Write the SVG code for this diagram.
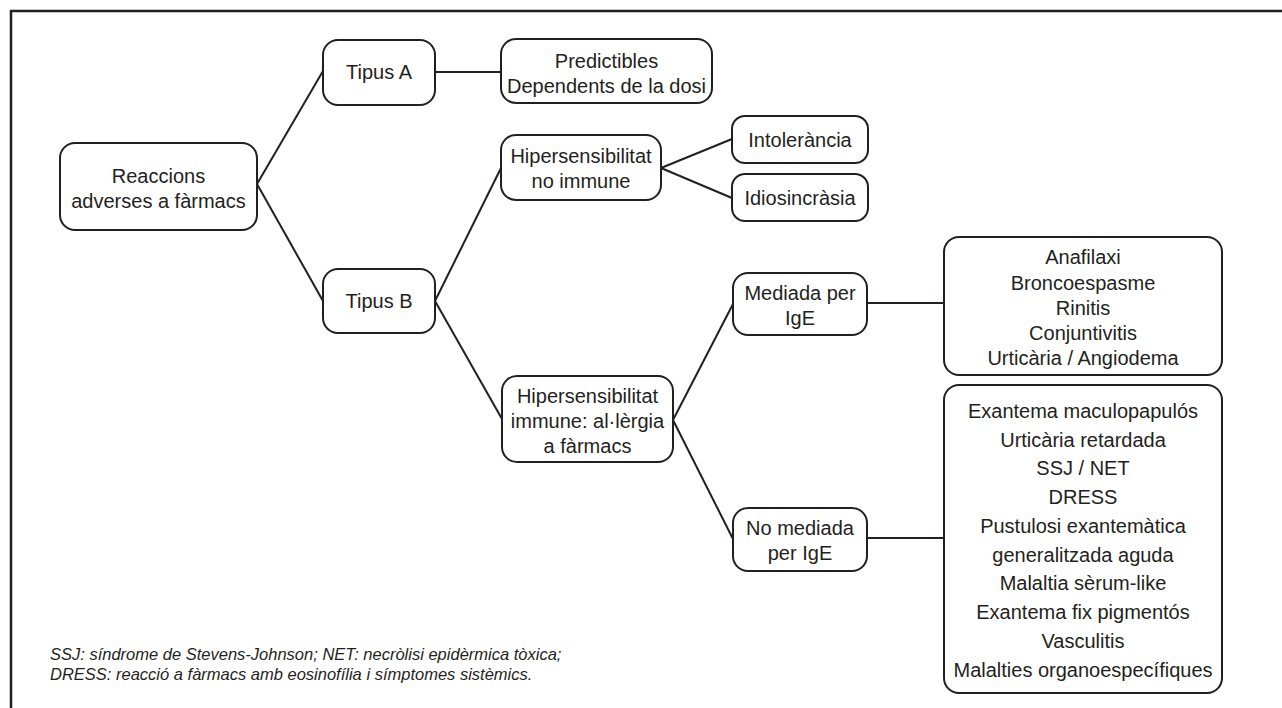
<svg xmlns="http://www.w3.org/2000/svg" width="1282" height="708" viewBox="0 0 1282 708">
<style>
.box{fill:#fff;stroke:#231f20;stroke-width:2}
.t{font-family:"Liberation Sans",Arial,sans-serif;font-size:20px;fill:#231f20;text-anchor:middle}
.c{stroke:#231f20;stroke-width:2;fill:none}
.fn{font-family:"Liberation Sans",Arial,sans-serif;font-size:16.5px;font-style:italic;fill:#231f20}
</style>
<rect width="1282" height="708" fill="#fff"/>
<path d="M11,708 V11 H1282" fill="none" stroke="#231f20" stroke-width="2.5"/>
<g id="connectors">
<line class="c" x1="257" y1="184" x2="323" y2="71"/>
<line class="c" x1="257" y1="184" x2="323" y2="301"/>
<line class="c" x1="435" y1="72" x2="501" y2="72"/>
<line class="c" x1="435" y1="301" x2="501" y2="168"/>
<line class="c" x1="435" y1="301" x2="502" y2="419"/>
<line class="c" x1="661" y1="168" x2="732" y2="139"/>
<line class="c" x1="661" y1="168" x2="732" y2="198"/>
<line class="c" x1="673" y1="420" x2="733" y2="304"/>
<line class="c" x1="673" y1="420" x2="733" y2="539"/>
<line class="c" x1="867" y1="303" x2="944" y2="303"/>
<line class="c" x1="867" y1="538" x2="944" y2="538"/>
</g>
<g id="root">
<rect class="box" x="60" y="143" width="197" height="87" rx="15"/>
<text class="t" x="158.5" y="183">Reaccions</text>
<text class="t" x="158.5" y="208">adverses a fàrmacs</text>
</g>
<g id="tipusA">
<rect class="box" x="323" y="40" width="112" height="65" rx="15"/>
<text class="t" x="379" y="79">Tipus A</text>
</g>
<g id="predictibles">
<rect class="box" x="501" y="39" width="211" height="64" rx="15"/>
<text class="t" x="606.5" y="68">Predictibles</text>
<text class="t" x="606.5" y="93">Dependents de la dosi</text>
</g>
<g id="tipusB">
<rect class="box" x="323" y="269" width="112" height="64" rx="15"/>
<text class="t" x="379" y="308">Tipus B</text>
</g>
<g id="noImmune">
<rect class="box" x="501" y="135" width="160" height="65" rx="15"/>
<text class="t" x="581" y="163">Hipersensibilitat</text>
<text class="t" x="581" y="188">no immune</text>
</g>
<g id="intolerancia">
<rect class="box" x="732" y="116" width="136" height="47" rx="13"/>
<text class="t" x="800" y="147">Intolerància</text>
</g>
<g id="idiosincrasia">
<rect class="box" x="732" y="174" width="136" height="47" rx="13"/>
<text class="t" x="800" y="205">Idiosincràsia</text>
</g>
<g id="immune">
<rect class="box" x="502" y="376" width="171" height="86" rx="15"/>
<text class="t" x="587.5" y="403">Hipersensibilitat</text>
<text class="t" x="587.5" y="428">immune: al·lèrgia</text>
<text class="t" x="587.5" y="453">a fàrmacs</text>
</g>
<g id="mediada">
<rect class="box" x="733" y="273" width="134" height="62" rx="15"/>
<text class="t" x="800" y="300">Mediada per</text>
<text class="t" x="800" y="325">IgE</text>
</g>
<g id="noMediada">
<rect class="box" x="733" y="508" width="134" height="63" rx="15"/>
<text class="t" x="800" y="535">No mediada</text>
<text class="t" x="800" y="560">per IgE</text>
</g>
<g id="igeList">
<rect class="box" x="944" y="237" width="278" height="138" rx="15"/>
<text class="t" x="1083" y="264">Anafilaxi</text>
<text class="t" x="1083" y="289.5">Broncoespasme</text>
<text class="t" x="1083" y="315">Rinitis</text>
<text class="t" x="1083" y="340">Conjuntivitis</text>
<text class="t" x="1083" y="365">Urticària / Angiodema</text>
</g>
<g id="noIgeList">
<rect class="box" x="944" y="385" width="278" height="308" rx="15"/>
<text class="t" x="1083" y="418">Exantema maculopapulós</text>
<text class="t" x="1083" y="446.5">Urticària retardada</text>
<text class="t" x="1083" y="475">SSJ / NET</text>
<text class="t" x="1083" y="504">DRESS</text>
<text class="t" x="1083" y="533">Pustulosi exantemàtica</text>
<text class="t" x="1083" y="561.5">generalitzada aguda</text>
<text class="t" x="1083" y="590">Malaltia sèrum-like</text>
<text class="t" x="1083" y="619">Exantema fix pigmentós</text>
<text class="t" x="1083" y="648">Vasculitis</text>
<text class="t" x="1083" y="677">Malalties organoespecífiques</text>
</g>
<g id="footnote">
<text class="fn" x="50" y="660">SSJ: síndrome de Stevens-Johnson; NET: necròlisi epidèrmica tòxica;</text>
<text class="fn" x="50" y="680">DRESS: reacció a fàrmacs amb eosinofília i símptomes sistèmics.</text>
</g>
</svg>
